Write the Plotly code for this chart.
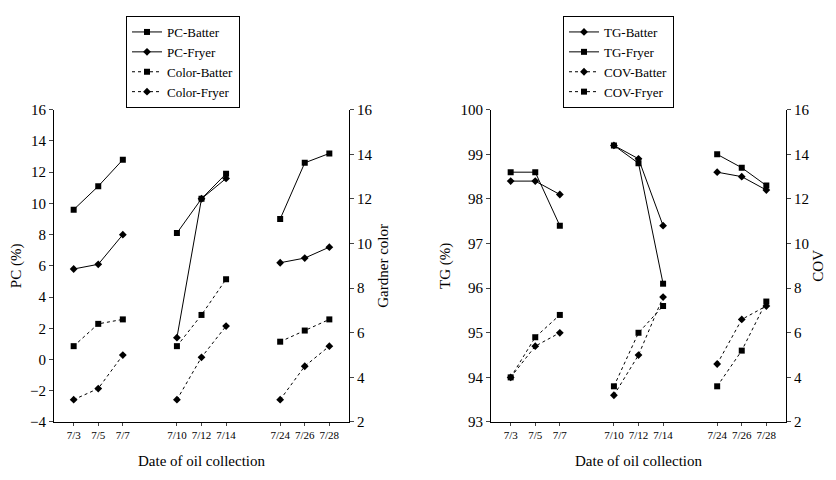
import plotly.graph_objects as go

dates = ["7/3","7/5","7/7","7/10","7/12","7/14","7/24","7/26","7/28"]
xpos = [0,1,2,4.2,5.2,6.2,8.4,9.4,10.4]

pc_batter = [9.6,11.1,12.8, 8.1,10.3,11.9, 9.0,12.6,13.2]
pc_fryer = [5.8,6.1,8.0, 1.4,10.3,11.6, 6.2,6.5,7.2]
color_batter = [5.4,6.4,6.6, 5.4,6.8,8.4, 5.6,6.1,6.6]
color_fryer = [3.0,3.5,5.0, 3.0,4.9,6.3, 3.0,4.5,5.4]

tg_batter = [98.4,98.4,98.1, 99.2,98.9,97.4, 98.6,98.5,98.2]
tg_fryer = [98.6,98.6,97.4, 99.2,98.8,96.1, 99.0,98.7,98.3]
cov_batter = [4.0,5.4,6.0, 3.2,5.0,7.6, 4.6,6.6,7.2]
cov_fryer = [4.0,5.8,6.8, 3.6,6.0,7.2, 3.6,5.2,7.4]

def gapped(v):
    out = []
    for i in range(0, 9, 3):
        out += list(v[i:i+3]) + [None]
    return out[:-1]

gx = gapped(xpos)
F = "Liberation Serif"
fig = go.Figure()

def add(name, y, xa, ya, sym, dash, leg):
    fig.add_trace(go.Scatter(x=gx, y=gapped(y), name=name, xaxis=xa, yaxis=ya,
        mode="lines+markers", connectgaps=False,
        line=dict(color="black", width=1, dash=dash),
        marker=dict(symbol=sym, size=6, color="black"), legend=leg))

add("PC-Batter", pc_batter, "x", "y", "square", "solid", "legend")
add("PC-Fryer", pc_fryer, "x", "y", "diamond", "solid", "legend")
add("Color-Batter", color_batter, "x", "y2", "square", "dot", "legend")
add("Color-Fryer", color_fryer, "x", "y2", "diamond", "dot", "legend")
add("TG-Batter", tg_batter, "x2", "y3", "diamond", "solid", "legend2")
add("TG-Fryer", tg_fryer, "x2", "y3", "square", "solid", "legend2")
add("COV-Batter", cov_batter, "x2", "y4", "diamond", "dot", "legend2")
add("COV-Fryer", cov_fryer, "x2", "y4", "square", "dot", "legend2")

yd = [0.125, 0.798]
xcommon = dict(tickvals=xpos, ticktext=dates, range=[-0.8, 11.2], showgrid=False,
               zeroline=False, showline=True, linecolor="black", ticks="outside",
               ticklen=3, tickfont=dict(size=11, family=F),
               title=dict(text="Date of oil collection", font=dict(size=15, family=F)))
ycommon = dict(showgrid=False, zeroline=False, showline=True, linecolor="black",
               ticks="outside", ticklen=4, tickfont=dict(size=15, family=F), domain=yd)

fig.update_layout(
    width=836, height=480, margin=dict(l=0, r=0, t=0, b=0),
    plot_bgcolor="white", paper_bgcolor="white",
    font=dict(family=F, color="black"),
    xaxis=dict(domain=[46/836, 341/836], anchor="y", **xcommon),
    xaxis2=dict(domain=[483/836, 778/836], anchor="y3", **xcommon),
    yaxis=dict(range=[-4, 16], dtick=2, anchor="x",
               title=dict(text="PC (%)", font=dict(size=15, family=F), standoff=6), **ycommon),
    yaxis2=dict(range=[2, 16], dtick=2, overlaying="y", side="right", anchor="x",
                title=dict(text="Gardner color", font=dict(size=15, family=F), standoff=6), **ycommon),
    yaxis3=dict(range=[93, 100], dtick=1, anchor="x2",
                title=dict(text="TG (%)", font=dict(size=15, family=F), standoff=6), **ycommon),
    yaxis4=dict(range=[2, 16], dtick=2, overlaying="y3", side="right", anchor="x2",
                title=dict(text="COV", font=dict(size=15, family=F), standoff=4), **ycommon),
    legend=dict(x=118/836, y=1.0, xanchor="left", yanchor="top", bgcolor="white",
                bordercolor="black", borderwidth=1, font=dict(size=13, family=F),
                tracegroupgap=0),
    legend2=dict(x=555/836, y=1.0, xanchor="left", yanchor="top", bgcolor="white",
                 bordercolor="black", borderwidth=1, font=dict(size=13, family=F),
                 tracegroupgap=0),
)
fig.write_html("out.html")
